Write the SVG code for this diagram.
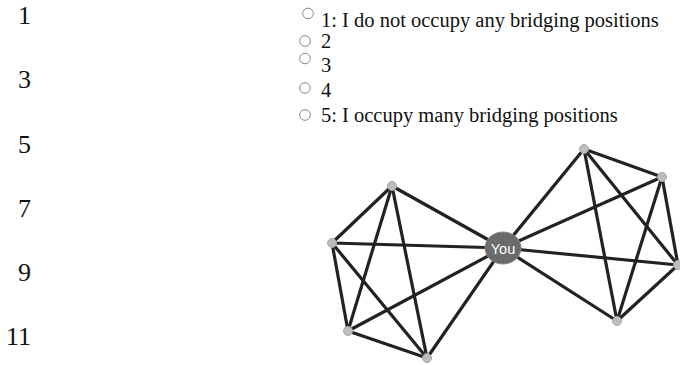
<svg xmlns="http://www.w3.org/2000/svg" width="680" height="365" viewBox="0 0 680 365">
<style>
.num{font-family:"Liberation Serif",serif;font-size:26px;fill:#111;text-anchor:end}
.opt{font-family:"Liberation Serif",serif;font-size:20.5px;fill:#111}
.radio{fill:#fff;stroke:#888;stroke-width:1}
.edge{stroke:#222;stroke-width:3.2;stroke-linecap:round}
.peer{fill:#bdbdbd;stroke:#a8a8a8;stroke-width:1}
</style>
<rect width="680" height="365" fill="#fff"/>
<g id="line-numbers">
<text class="num" x="31" y="24">1</text>
<text class="num" x="31" y="88">3</text>
<text class="num" x="31" y="153">5</text>
<text class="num" x="31" y="217">7</text>
<text class="num" x="31" y="281">9</text>
<text class="num" x="31" y="345">11</text>
</g>
<g id="options">
<circle class="radio" cx="308" cy="13.5" r="5.3"/><text class="opt" x="321" y="27">1: I do not occupy any bridging positions</text>
<circle class="radio" cx="305" cy="41" r="5.3"/><text class="opt" x="321" y="48">2</text>
<circle class="radio" cx="305" cy="58.5" r="5.3"/><text class="opt" x="321" y="72">3</text>
<circle class="radio" cx="305" cy="88" r="5.3"/><text class="opt" x="321" y="97">4</text>
<circle class="radio" cx="305" cy="115" r="5.3"/><text class="opt" x="321" y="122">5: I occupy many bridging positions</text>
</g>
<g id="connectors">
<line class="edge" x1="392" y1="186" x2="332" y2="243"/>
<line class="edge" x1="392" y1="186" x2="348" y2="331"/>
<line class="edge" x1="392" y1="186" x2="427" y2="358"/>
<line class="edge" x1="392" y1="186" x2="503" y2="248"/>
<line class="edge" x1="332" y1="243" x2="348" y2="331"/>
<line class="edge" x1="332" y1="243" x2="427" y2="358"/>
<line class="edge" x1="332" y1="243" x2="503" y2="248"/>
<line class="edge" x1="348" y1="331" x2="427" y2="358"/>
<line class="edge" x1="348" y1="331" x2="503" y2="248"/>
<line class="edge" x1="427" y1="358" x2="503" y2="248"/>
<line class="edge" x1="584" y1="149" x2="662" y2="177"/>
<line class="edge" x1="584" y1="149" x2="678" y2="265"/>
<line class="edge" x1="584" y1="149" x2="617" y2="321"/>
<line class="edge" x1="584" y1="149" x2="503" y2="248"/>
<line class="edge" x1="662" y1="177" x2="678" y2="265"/>
<line class="edge" x1="662" y1="177" x2="617" y2="321"/>
<line class="edge" x1="662" y1="177" x2="503" y2="248"/>
<line class="edge" x1="678" y1="265" x2="617" y2="321"/>
<line class="edge" x1="678" y1="265" x2="503" y2="248"/>
<line class="edge" x1="617" y1="321" x2="503" y2="248"/>
</g>
<g id="node-a"><circle class="peer" cx="392" cy="186" r="4.5"/></g>
<g id="node-b"><circle class="peer" cx="332" cy="243" r="4.5"/></g>
<g id="node-c"><circle class="peer" cx="348" cy="331" r="4.5"/></g>
<g id="node-d"><circle class="peer" cx="427" cy="358" r="4.5"/></g>
<g id="node-e"><circle class="peer" cx="584" cy="149" r="4.5"/></g>
<g id="node-f"><circle class="peer" cx="662" cy="177" r="4.5"/></g>
<g id="node-g"><circle class="peer" cx="678" cy="265" r="4.5"/></g>
<g id="node-h"><circle class="peer" cx="617" cy="321" r="4.5"/></g>
<g id="node-you">
<ellipse cx="503" cy="248" rx="18" ry="16" fill="#6b6b6b" stroke="#888" stroke-width="1"/>
<text x="503" y="253.5" font-family="'Liberation Sans',Arial,sans-serif" font-size="14.5" fill="#fff" text-anchor="middle">You</text>
</g>
</svg>
